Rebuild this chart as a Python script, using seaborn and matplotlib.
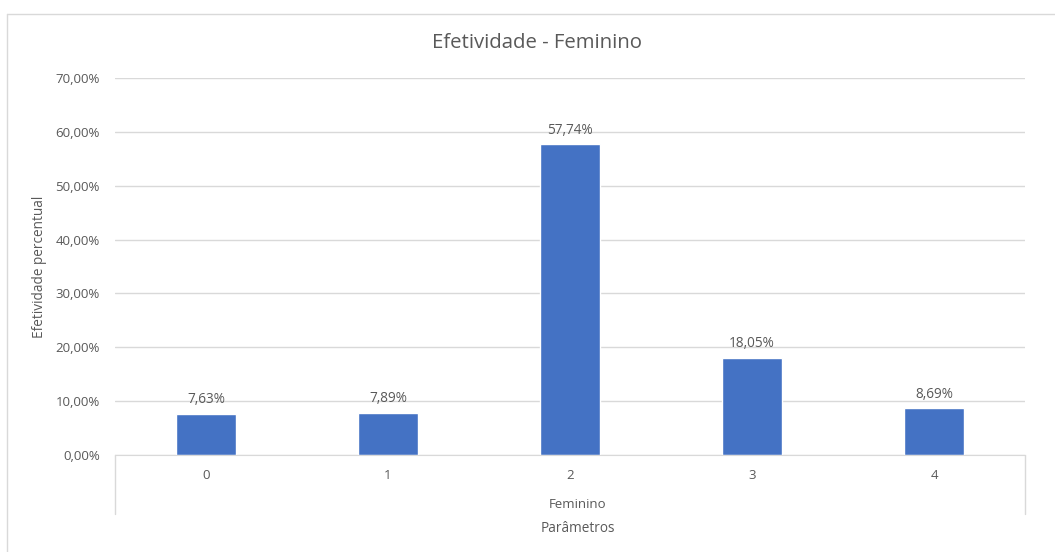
import matplotlib.pyplot as plt
import seaborn as sns
import pandas as pd
from matplotlib.lines import Line2D

# Values
parametros = ['0', '1', '2', '3', '4']
efetividade = [0.0763, 0.0789, 0.5774, 0.1805, 0.0869]
grupo = 'Feminino'

data = pd.DataFrame({'parametro': parametros, 'efetividade': efetividade})

sns.set_style('white')
plt.rcParams['font.family'] = ['Open Sans', 'DejaVu Sans']
text_color = '#595959'
grid_color = '#d9d9d9'

fig = plt.figure(figsize=(10.55, 5.52), dpi=100)
W, H = 1055, 552
ax = fig.add_axes([115 / W, 1 - 455 / H, (1025 - 115) / W, (455 - 78) / H])

sns.barplot(data=data, x='parametro', y='efetividade', color='#4472C4',
            width=0.33, saturation=1, ax=ax)

ax.set_ylim(0, 0.7)
ax.set_xlim(-0.5, len(parametros) - 0.5)
yticks = [i / 10 for i in range(8)]
ax.set_yticks(yticks)
ax.set_yticklabels([f'{t * 100:.2f}%'.replace('.', ',') for t in yticks])
ax.yaxis.grid(True, color=grid_color, linewidth=1)
ax.set_axisbelow(True)
for s in ['top', 'right', 'left']:
    ax.spines[s].set_visible(False)
ax.spines['bottom'].set_color(grid_color)
ax.tick_params(axis='both', length=0, colors=text_color, labelsize=9.5)
ax.tick_params(axis='x', pad=10)
ax.tick_params(axis='y', pad=11)
ax.set_xlabel('')
ax.set_ylabel('Efetividade percentual', color=text_color, fontsize=9.8, labelpad=6)

# data labels
for i, v in enumerate(efetividade):
    ax.text(i, v + 0.012, f'{v * 100:.2f}%'.replace('.', ','), ha='center',
            va='bottom', color=text_color, fontsize=9.8)

# multi-level category axis lines
for x in [115, 1025]:
    fig.add_artist(Line2D([x / W, x / W], [1 - 455 / H, 1 - 514 / H],
                          color=grid_color, linewidth=1))
fig.text(578 / W, 1 - 505 / H, grupo, ha='center', va='center',
         color=text_color, fontsize=9.5)
fig.text(578 / W, 1 - 528 / H, 'Parâmetros', ha='center', va='center',
         color=text_color, fontsize=9.8)

fig.text(537 / W, 1 - 43 / H, 'Efetividade - Feminino', ha='center', va='center',
         color=text_color, fontsize=14.7)

# chart area border (top and left edges only are visible)
fig.add_artist(Line2D([7 / W, 1], [1 - 14 / H, 1 - 14 / H], color=grid_color, linewidth=1))
fig.add_artist(Line2D([7 / W, 7 / W], [0, 1 - 14 / H], color=grid_color, linewidth=1))

fig.savefig('out.png', dpi=100, facecolor='white')
